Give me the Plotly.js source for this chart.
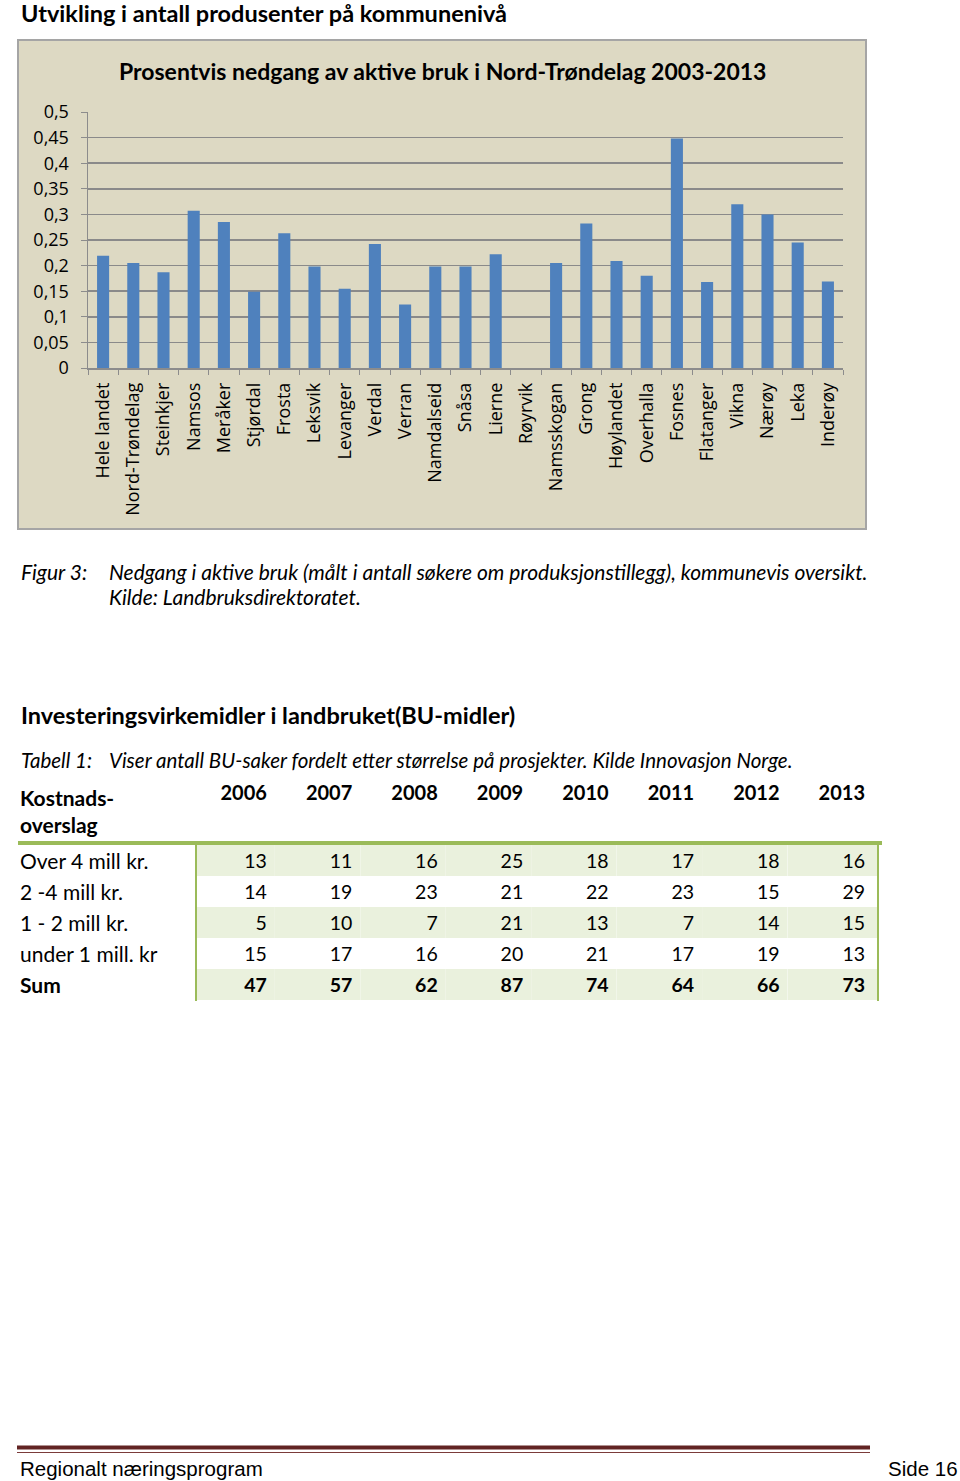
<!DOCTYPE html>
<html>
<head>
<meta charset="utf-8">
<script src="https://cdn.plot.ly/plotly-3.0.1.min.js"></script>
<style>html,body{margin:0;padding:0;background:#fff;}#page{width:960px;height:1481px;}</style>
</head>
<body>
<div id="page"></div>
<script>
// ---------- data ----------
const categories = ["Hele landet","Nord-Trøndelag","Steinkjer","Namsos","Meråker","Stjørdal","Frosta","Leksvik","Levanger","Verdal","Verran","Namdalseid","Snåsa","Lierne","Røyrvik","Namsskogan","Grong","Høylandet","Overhalla","Fosnes","Flatanger","Vikna","Nærøy","Leka","Inderøy"];
const decline = [0.219,0.205,0.187,0.307,0.285,0.149,0.263,0.198,0.155,0.242,0.124,0.198,0.198,0.222,0,0.205,0.282,0.209,0.180,0.448,0.168,0.320,0.300,0.245,0.169];
const yTickVals = [0,0.05,0.1,0.15,0.2,0.25,0.3,0.35,0.4,0.45,0.5];
const yTickText = ["0","0,05","0,1","0,15","0,2","0,25","0,3","0,35","0,4","0,45","0,5"];

const years = ["2006","2007","2008","2009","2010","2011","2012","2013"];
const rowLabels = ["Over 4 mill kr.","2 -4 mill kr.","1 - 2 mill kr.","under 1 mill. kr","Sum"];
const over4 = [13,11,16,25,18,17,18,16];
const mill2to4 = [14,19,23,21,22,23,15,29];
const mill1to2 = [5,10,7,21,13,7,14,15];
const under1 = [15,17,16,20,21,17,19,13];
const sums = [47,57,62,87,74,64,66,73];

// ---------- helpers ----------
const W = 960, H = 1481;
const X = x => x / W;
const Y = y => 1 - y / H;
const FONT = "Lato, 'Open Sans', sans-serif";

// ---------- bar chart ----------
const bar = {
  type: 'bar', x: categories, y: decline,
  marker: {color: '#4F81BD'},
  xaxis: 'x', yaxis: 'y', hoverinfo: 'x+y'
};

// ---------- table ----------
const headerVals = [["Kostnads-<br>overslag"]].concat(years.map(y => [y])).concat([[""]]);
const cellCols = [rowLabels.slice()];
years.forEach((y, j) => {
  cellCols.push([over4[j], mill2to4[j], mill1to2[j], under1[j], sums[j]]);
});
cellCols.push(["", "", "", "", ""]);
const stripe = ['#EAF1DD', '#FFFFFF', '#EAF1DD', '#FFFFFF', '#EAF1DD'];
const fillCols = cellCols.map((c, i) => i === 0 ? c.map(() => '#FFFFFF') : stripe);
const weightCols = cellCols.map(c => c.map((v, r) => r === c.length - 1 ? 'bold' : 'normal'));
const sizeCols = cellCols.map((c, i) => i === 0 ? 21 : 19.5);
const colWidths = [184, 79].concat(years.slice(1).map(() => 85.5)).concat([5]);
const aligns = ['left'].concat(years.map(() => 'right')).concat(['right']);

const table = {
  type: 'table',
  domain: {x: [X(12), X(878)], y: [Y(1040), Y(777)]},
  columnwidth: colWidths,
  header: {
    values: headerVals,
    align: aligns,
    height: 62,
    fill: {color: '#FFFFFF'},
    line: {width: 0, color: '#FFFFFF'},
    font: {family: FONT, size: headerVals.map((c, i) => i === 0 ? 21 : 20), color: '#000', weight: 'bold'}
  },
  cells: {
    values: cellCols,
    align: aligns,
    height: 31,
    fill: {color: fillCols},
    line: {width: 0, color: '#FFFFFF'},
    font: {family: FONT, size: sizeCols, color: '#000', weight: weightCols}
  }
};

// ---------- layout ----------
const ann = (text, x, y, opts) => Object.assign({
  text: text, x: X(x), y: Y(y), xref: 'paper', yref: 'paper',
  xanchor: 'left', yanchor: 'middle', showarrow: false,
  font: {family: FONT, size: 21, color: '#000'}
}, opts || {});

const layout = {
  width: W, height: H,
  margin: {l: 0, r: 0, t: 0, b: 0},
  paper_bgcolor: '#FFFFFF',
  plot_bgcolor: '#E0E0E0',
  showlegend: false,
  bargap: 0.6,
  font: {family: FONT, color: '#000'},
  xaxis: {
    domain: [X(88), X(843)],
    anchor: 'y',
    type: 'category',
    tickangle: -90,
    ticks: 'outside', tickson: 'boundaries', ticklen: 5, tickcolor: '#8C8C8C',
    showline: true, linecolor: '#8C8C8C', linewidth: 1.5,
    showgrid: false, automargin: false,
    ticklabelstandoff: 6,
    tickfont: {family: "'Open Sans', sans-serif", size: 18, color: '#000'},
    fixedrange: true
  },
  yaxis: {
    domain: [Y(368), Y(112)],
    anchor: 'x',
    range: [0, 0.5],
    tickvals: yTickVals, ticktext: yTickText,
    ticks: 'outside', ticklen: 6, tickcolor: '#8C8C8C',
    showline: true, linecolor: '#8C8C8C', linewidth: 1.5,
    gridcolor: '#8A8A8A', gridwidth: 1.6,
    zeroline: false, automargin: false,
    ticklabelstandoff: 8,
    tickfont: {family: "'Open Sans', sans-serif", size: 18, color: '#000'},
    fixedrange: true
  },
  shapes: [
    // chart frame
    {type: 'rect', xref: 'paper', yref: 'paper', x0: X(18), x1: X(866), y0: Y(529), y1: Y(40),
     fillcolor: '#DDD9C3', line: {color: '#A5A5A5', width: 2}, layer: 'below'},
    // table lines
    {type: 'line', xref: 'paper', yref: 'paper', x0: X(18), x1: X(882), y0: Y(843), y1: Y(843),
     line: {color: '#9BBB59', width: 4}},
    {type: 'line', xref: 'paper', yref: 'paper', x0: X(196), x1: X(196), y0: Y(845), y1: Y(1001),
     line: {color: '#9BBB59', width: 2}},
    {type: 'line', xref: 'paper', yref: 'paper', x0: X(878), x1: X(878), y0: Y(845), y1: Y(1001),
     line: {color: '#9BBB59', width: 2}},
    // footer lines
    {type: 'line', xref: 'paper', yref: 'paper', x0: X(17), x1: X(870), y0: Y(1447.5), y1: Y(1447.5),
     line: {color: '#622423', width: 4}},
    {type: 'line', xref: 'paper', yref: 'paper', x0: X(17), x1: X(870), y0: Y(1452.5), y1: Y(1452.5),
     line: {color: '#7B3B3A', width: 1.2}}
  ],
  annotations: [
    ann('<b>Utvikling i antall produsenter på kommunenivå</b>', 19, 13, {font: {family: FONT, size: 23.5, color: '#000'}}),
    ann('<b>Prosentvis nedgang av aktive bruk i Nord-Trøndelag 2003-2013</b>', 442, 71, {xanchor: 'center', font: {family: FONT, size: 23, color: '#000'}}),
    ann('<i>Figur 3:</i>', 19, 571),
    ann('<i>Nedgang i aktive bruk (målt i antall søkere om produksjonstillegg), kommunevis oversikt.</i>', 107, 571),
    ann('<i>Kilde: Landbruksdirektoratet.</i>', 107, 596),
    ann('<b>Investeringsvirkemidler i landbruket(BU-midler)</b>', 19, 715, {font: {family: FONT, size: 23.5, color: '#000'}}),
    ann('<i>Tabell 1:</i>', 19, 760, {font: {family: FONT, size: 20.5, color: '#000'}}),
    ann('<i>Viser antall BU-saker fordelt etter størrelse på prosjekter. Kilde Innovasjon Norge.</i>', 107, 760, {font: {family: FONT, size: 20.5, color: '#000'}}),
    ann('Regionalt næringsprogram', 18, 1468, {font: {family: "'Liberation Sans', Arial, sans-serif", size: 20.5, color: '#000'}}),
    ann('Side 16', 960, 1468, {xanchor: 'right', font: {family: "'Liberation Sans', Arial, sans-serif", size: 20.5, color: '#000'}})
  ]
};

Plotly.newPlot('page', [bar, table], layout, {displayModeBar: false, staticPlot: true});
</script>
</body>
</html>
